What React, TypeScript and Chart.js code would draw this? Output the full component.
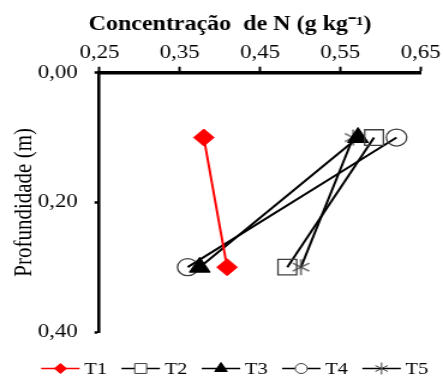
import React, { useEffect, useRef } from 'react';
import { Chart, registerables } from 'chart.js';

Chart.register(...registerables);

// ---- data ----
const depths = [0.1, 0.3];
const seriesNames = ['T1', 'T2', 'T3', 'T4', 'T5'];
const t1 = [0.38, 0.409];
const t2 = [0.592, 0.484];
const t3 = [0.572, 0.375];
const t4 = [0.62, 0.36];
const t5 = [0.566, 0.501];
const xTicks = [0.25, 0.35, 0.45, 0.55, 0.65];
const yTicks = [0, 0.2, 0.4];
const xTitle = 'Concentração  de N (g kg⁻¹)';
const yTitle = 'Profundidade (m)';

// ---- styles ----
const styles = [
  { line: '#ff0000', shape: 'rectRot', r: 8.5, lr: 5, fill: '#ff0000', stroke: '#ff0000', bw: 1 },
  { line: '#000000', shape: 'rect', r: 11, lr: 7, fill: 'transparent', stroke: '#404040', bw: 1.3 },
  { line: '#000000', shape: 'triangle', r: 10, lr: 6, fill: '#000000', stroke: '#000000', bw: 1 },
  { line: '#000000', shape: 'circle', r: 8.5, lr: 5, fill: 'transparent', stroke: '#404040', bw: 1.3 },
  { line: '#000000', shape: 'star6', r: 8, lr: 6, fill: 'transparent', stroke: '#404040', bw: 1.3 },
];

const FONT = '"Liberation Serif", "Times New Roman", serif';
const S = 1.2; // horizontal stretch of the reference
const CSS_W = 443;
const CSS_H = 376;
const W = Math.round(CSS_W / S);

function fmt(v: number) {
  return v.toFixed(2).replace('.', ',');
}

function drawShape(ctx: CanvasRenderingContext2D, shape: string, x: number, y: number, r: number, fill: string, stroke: string, bw: number) {
  ctx.save();
  ctx.beginPath();
  ctx.lineWidth = bw;
  ctx.strokeStyle = stroke;
  ctx.fillStyle = fill;
  if (shape === 'rectRot') {
    ctx.moveTo(x - r, y); ctx.lineTo(x, y - r); ctx.lineTo(x + r, y); ctx.lineTo(x, y + r); ctx.closePath();
  } else if (shape === 'rect') {
    const h = r * Math.SQRT1_2;
    ctx.rect(x - h, y - h, 2 * h, 2 * h);
  } else if (shape === 'triangle') {
    ctx.moveTo(x, y - r); ctx.lineTo(x + 0.866 * r, y + 0.5 * r); ctx.lineTo(x - 0.866 * r, y + 0.5 * r); ctx.closePath();
  } else if (shape === 'circle') {
    ctx.arc(x, y, r, 0, Math.PI * 2);
  } else if (shape === 'star6') {
    ctx.moveTo(x, y - r); ctx.lineTo(x, y + r);
    const dx = r * Math.sin(Math.PI / 3), dy = r * Math.cos(Math.PI / 3);
    ctx.moveTo(x - dx, y - dy); ctx.lineTo(x + dx, y + dy);
    ctx.moveTo(x + dx, y - dy); ctx.lineTo(x - dx, y + dy);
  }
  if (shape !== 'star6' && fill !== 'transparent') ctx.fill();
  ctx.stroke();
  ctx.restore();
}

function starImage(r: number, stroke: string, bw: number) {
  const c = document.createElement('canvas');
  const size = Math.ceil(2 * r + 4);
  c.width = size; c.height = size;
  const cx = c.getContext('2d')!;
  drawShape(cx, 'star6', size / 2, size / 2, r, 'transparent', stroke, bw);
  return c;
}

const overlay = {
  id: 'overlay',
  afterDraw(chart: any) {
    const { ctx, chartArea } = chart;
    ctx.save();
    ctx.fillStyle = '#000';
    ctx.font = `bold 20px ${FONT}`;
    ctx.textAlign = 'center';
    ctx.textBaseline = 'middle';
    ctx.fillText(xTitle, (chartArea.left + chartArea.right) / 2 - 25, 25);

    ctx.font = `17px ${FONT}`;
    ctx.textAlign = 'left';
    const lineLen = 32, gap = 4, spacing = 12;
    const widths = seriesNames.map((n) => ctx.measureText(n).width);
    const total = widths.reduce((a, w) => a + lineLen + gap + w, 0) + spacing * (seriesNames.length - 1);
    let x = chart.width / 2 + 11 - total / 2;
    const y = 368.5;
    seriesNames.forEach((name, i) => {
      const st = styles[i];
      ctx.beginPath();
      ctx.strokeStyle = st.line;
      ctx.lineWidth = 1.6;
      ctx.moveTo(x, y); ctx.lineTo(x + lineLen, y);
      ctx.stroke();
      drawShape(ctx, st.shape, x + lineLen / 2, y, st.lr, st.fill === 'transparent' ? '#fff' : st.fill, st.stroke, 1);
      ctx.fillStyle = '#000';
      ctx.fillText(name, x + lineLen + gap, y + 1);
      x += lineLen + gap + widths[i] + spacing;
    });
    ctx.restore();
  },
};

export default function App() {
  const ref = useRef<HTMLCanvasElement>(null);
  useEffect(() => {
    document.body.style.margin = '0';
    const canvas = ref.current!;
    const values = [t1, t2, t3, t4, t5];
    const datasets = seriesNames.map((name, i) => {
      const st = styles[i];
      const ps: any = st.shape === 'star6' ? starImage(st.r, st.stroke, st.bw) : st.shape;
      return {
        label: name,
        data: depths.map((d, j) => ({ x: values[i][j], y: d })),
        showLine: true,
        borderColor: st.line,
        borderWidth: 2,
        pointStyle: ps,
        pointRadius: st.r,
        pointHoverRadius: st.r,
        pointBackgroundColor: st.fill,
        pointBorderColor: st.stroke,
        pointBorderWidth: st.bw,
        clip: false as any,
      };
    });
    const chart = new Chart(canvas, {
      type: 'scatter',
      data: { datasets },
      options: {
        animation: false,
        responsive: false,
        devicePixelRatio: 1,
        layout: { padding: { left: 0, right: 17, top: 0, bottom: 44 } },
        plugins: { legend: { display: false }, tooltip: { enabled: false }, title: { display: false } },
        scales: {
          x: {
            type: 'linear',
            position: 'top',
            min: 0.25,
            max: 0.65,
            afterBuildTicks: (s: any) => { s.ticks = xTicks.map((v) => ({ value: v })); },
            afterFit: (s: any) => { s.height = 72.7; },
            ticks: {
              callback: (v: any) => fmt(Number(v)),
              font: { family: FONT, size: 19 },
              color: '#000',
              padding: 2,
              maxRotation: 0,
              autoSkip: false,
            },
            grid: { display: true, drawOnChartArea: false, drawTicks: true, tickLength: 6, tickWidth: 2, color: '#000' },
            border: { display: true, width: 3.5, color: '#000' },
            title: { display: false },
          },
          y: {
            type: 'linear',
            reverse: true,
            min: 0,
            max: 0.4,
            afterBuildTicks: (s: any) => { s.ticks = yTicks.map((v) => ({ value: v })); },
            afterFit: (s: any) => { s.width = 82.75; },
            ticks: {
              callback: (v: any) => fmt(Number(v)),
              font: { family: FONT, size: 19 },
              color: '#000',
              padding: 14,
              autoSkip: false,
            },
            grid: { display: true, drawOnChartArea: false, drawTicks: true, tickLength: 4, tickWidth: 2.5, color: '#000' },
            border: { display: true, width: 2.6, color: '#000' },
            title: {
              display: true,
              text: yTitle,
              font: { family: FONT, size: 21 },
              color: '#000',
              padding: { top: 8, bottom: 0 },
            },
          },
        },
      },
      plugins: [overlay],
    });
    return () => chart.destroy();
  }, []);
  return (
    <canvas
      ref={ref}
      width={W}
      height={CSS_H}
      style={{ display: 'block', width: CSS_W + 'px', height: CSS_H + 'px' }}
    />
  );
}
